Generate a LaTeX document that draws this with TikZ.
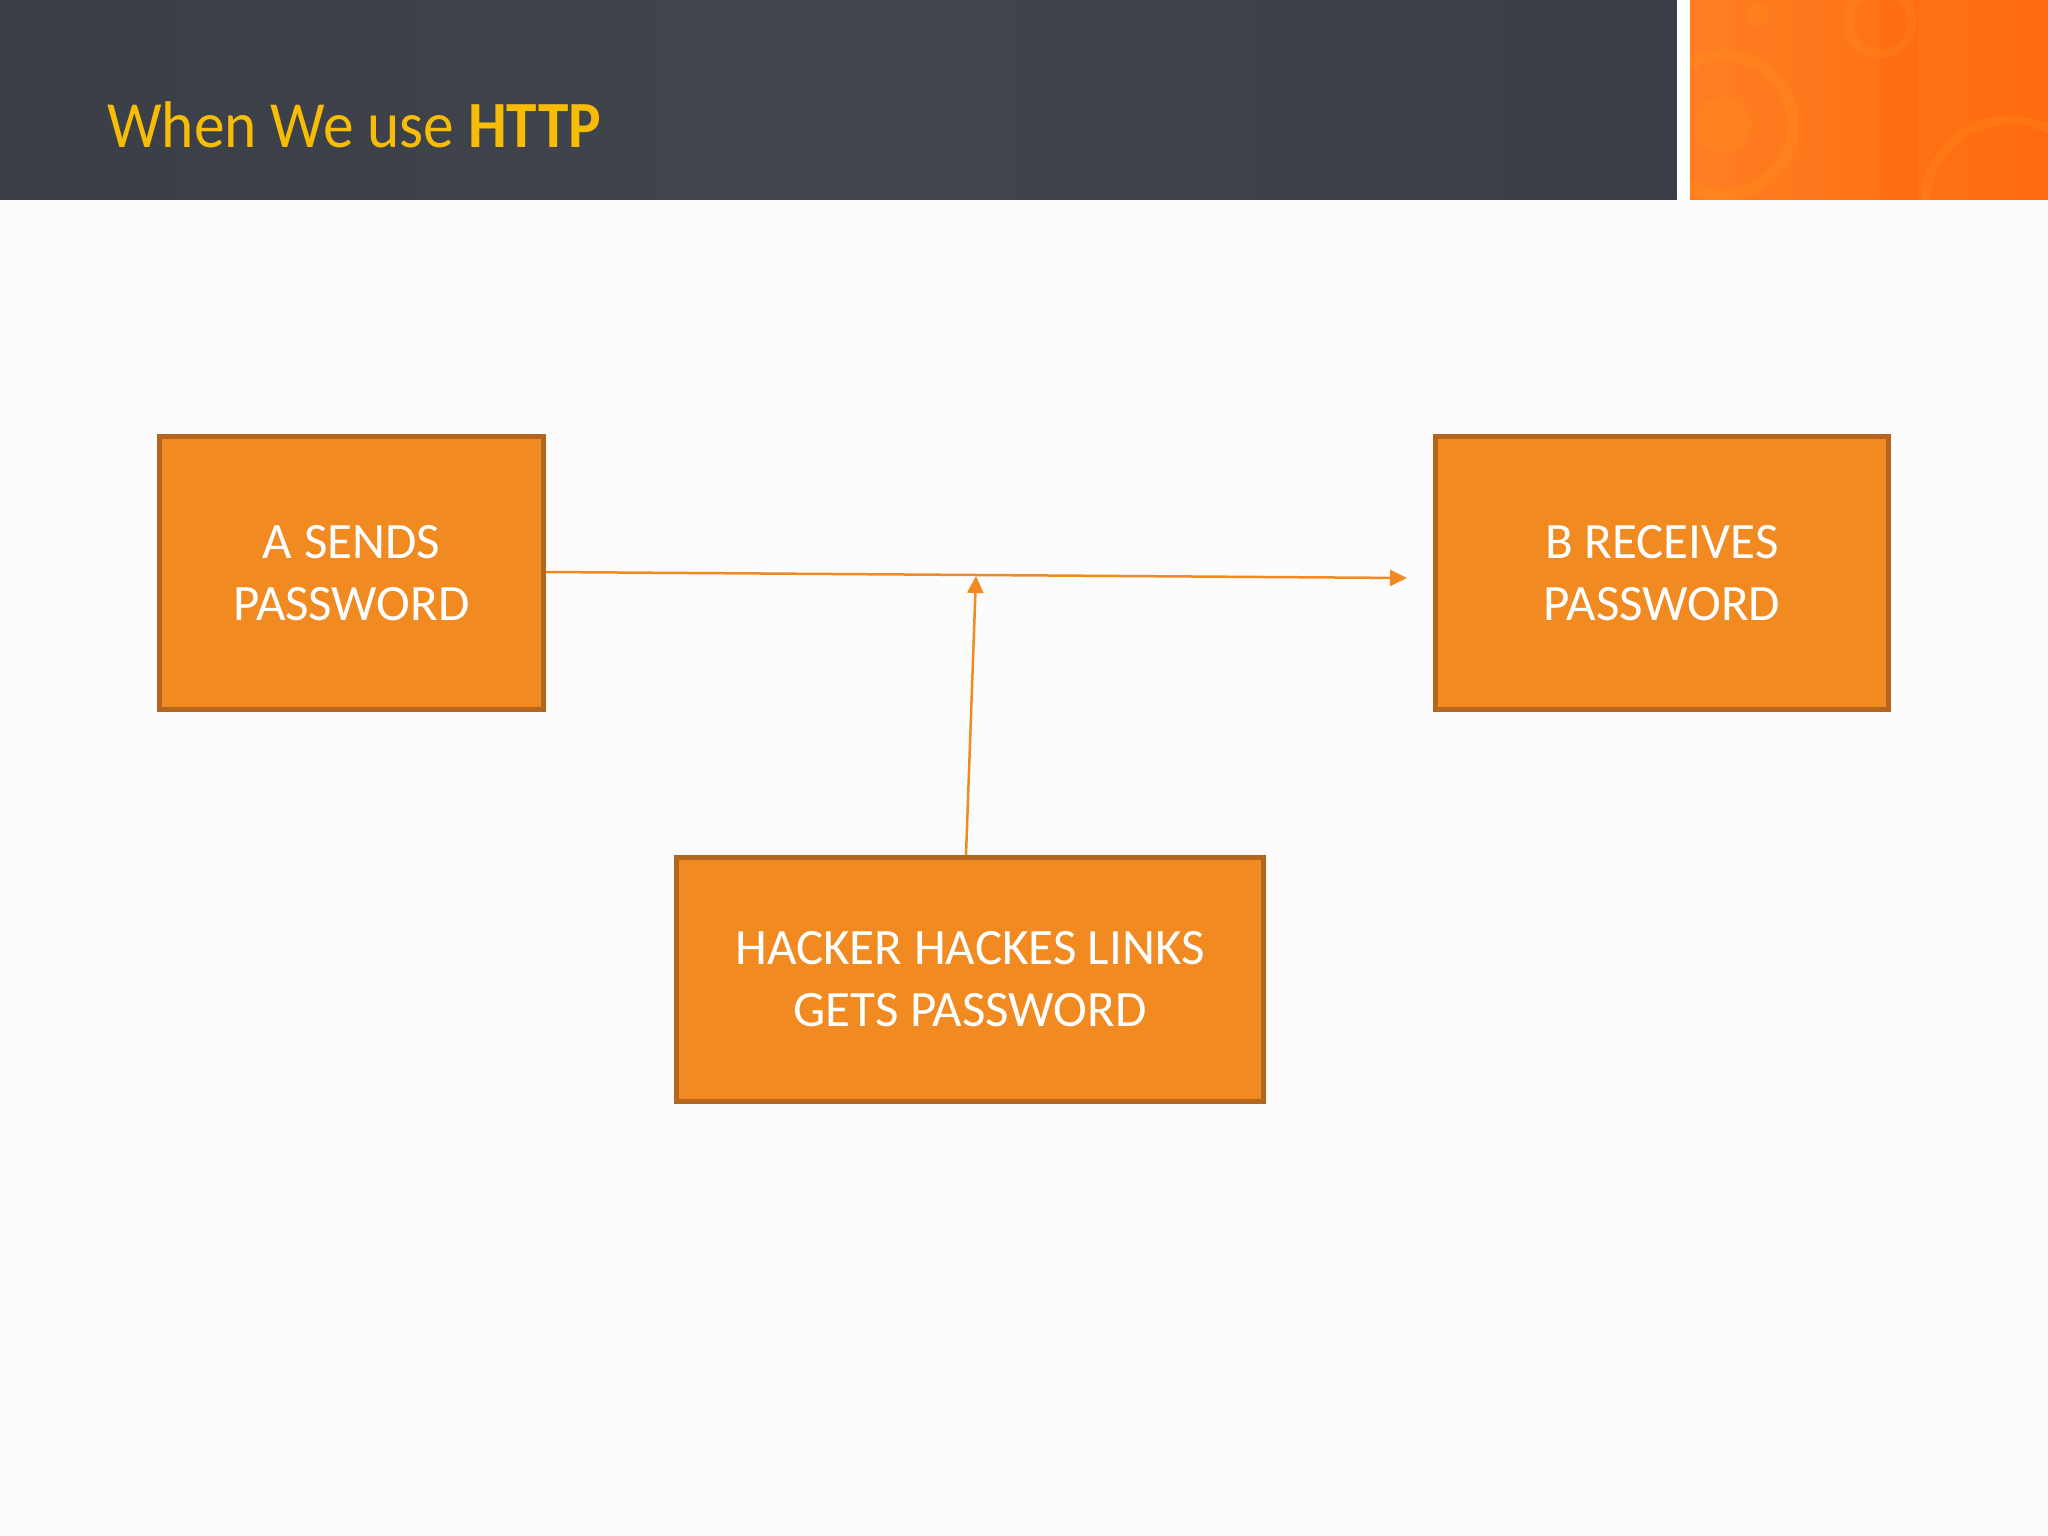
\documentclass[tikz,border=0pt]{standalone}
\usepackage{fontspec}
\setmainfont{Carlito}
\newfontfamily\titlefont[FakeStretch=0.93]{Carlito}
\usetikzlibrary{arrows.meta}
\definecolor{slate}{HTML}{393E47}
\definecolor{slateL}{HTML}{40454E}
\definecolor{panel}{HTML}{FF6A10}
\definecolor{panelL}{HTML}{FF7E22}
\definecolor{boxfill}{HTML}{F28A22}
\definecolor{boxedge}{HTML}{B4661E}
\definecolor{titlegold}{HTML}{F7BC06}
\tikzset{
  box/.style={draw=boxedge, line width=5pt, fill=boxfill, text=white, align=center,
    font=\fontsize{51}{62}\selectfont, inner sep=0pt},
  conn/.style={draw=boxfill, line width=2.5pt, -{Triangle[length=17pt,width=16pt]}}
}
\begin{document}
\begin{tikzpicture}[x=1pt,y=-1pt]
\useasboundingbox (0,0) rectangle (2048,1536);
\fill[white!98!gray] (0,0) rectangle (2048,1536);
% header band
\shade[left color=slate, right color=slate, middle color=slateL] (0,0) rectangle (1677,199);
\fill[white] (1677,0) rectangle (1690,199);
% orange panel
\begin{scope}
\clip (1690,0) rectangle (2048,199);
\shade[left color=panelL, right color=panel] (1690,0) rectangle (2048,199);
\fill[panel!88!red, opacity=0.25] (1880,0) rectangle (1918,199);
\draw[panelL!80!yellow, opacity=0.25, line width=12pt] (1723,125) circle (70);
\fill[panelL!80!yellow, opacity=0.18] (1723,125) circle (28);
\draw[panelL!80!yellow, opacity=0.22, line width=9pt] (1880,22) circle (32);
\fill[panelL!80!yellow, opacity=0.18] (1758,15) circle (12);
\draw[panelL!80!yellow, opacity=0.22, line width=9pt] (2010,205) circle (85);
\end{scope}
% title
\node[anchor=base west, inner sep=0pt, text=titlegold, font=\titlefont\fontsize{66}{70}\selectfont] (title) at (107,148) {When We use \textbf{HTTP}};
% boxes
\node[box, minimum width=384pt, minimum height=273pt] (A) at (351.5,573) {A SENDS\\PASSWORD};
\node[box, minimum width=453pt, minimum height=273pt] (B) at (1662,573) {B RECEIVES\\PASSWORD};
\node[box, minimum width=587pt, minimum height=244pt] (H) at (970,979.5) {HACKER HACKES LINKS\\GETS PASSWORD};
% connectors
\draw[conn] ([yshift=1pt]A.east) -- ([xshift=-26pt,yshift=-5pt]B.west);
\coordinate (m) at (976,576);
\draw[conn] ([xshift=-4pt]H.north) -- (m);
\end{tikzpicture}
\end{document}
